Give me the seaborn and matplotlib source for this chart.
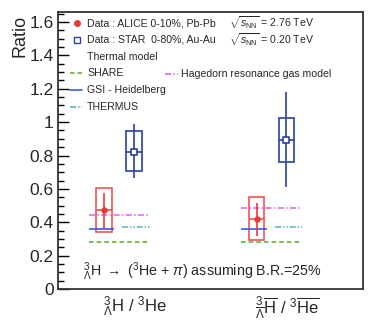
import matplotlib
matplotlib.use("Agg")
import matplotlib.pyplot as plt
import numpy as np
import pandas as pd
import seaborn as sns
from matplotlib.lines import Line2D
from matplotlib.patches import Rectangle
from matplotlib.ticker import MultipleLocator
from matplotlib.transforms import ScaledTranslation

# categories
categories = [r"$^{3}_{\Lambda}$H / $^{3}$He",
              r"$^{3}_{\overline{\Lambda}}\overline{\mathrm{H}}$ / $^{3}\overline{\mathrm{He}}$"]

# data points: value, stat low/high, syst low/high
alice_val = [0.473, 0.419]
alice_stat_lo = [0.36, 0.319]
alice_stat_hi = [0.577, 0.517]
alice_sys_lo = [0.34, 0.293]
alice_sys_hi = [0.605, 0.553]

star_val = [0.822, 0.892]
star_stat_lo = [0.663, 0.609]
star_stat_hi = [0.986, 1.18]
star_sys_lo = [0.707, 0.76]
star_sys_hi = [0.948, 1.022]

# thermal model predictions
share_val = [0.28, 0.28]
hagedorn_val = [0.445, 0.487]
gsi_val = [0.361, 0.361]
thermus_val = [0.369, 0.369]

c_alice = "#e83a3a"
c_alice_box = "#f05454"
c_star = "#2c40a8"
c_share = "#5aaa22"
c_hag = "#e85ee8"
c_gsi = "#3a5ae8"
c_thermus = "#5eb0b0"

ls_share = (0, (3, 2))
ls_hag = (0, (4, 1.5, 1, 1.5))
ls_thermus = (0, (4, 1.2, 1, 1.2, 1, 1.2))

sns.set_theme(style="white")
plt.rcParams["font.family"] = ["Liberation Sans", "DejaVu Sans"]
plt.rcParams["mathtext.fontset"] = "custom"
plt.rcParams["mathtext.rm"] = "Liberation Sans"
plt.rcParams["mathtext.it"] = "Liberation Sans:italic"
plt.rcParams["mathtext.bf"] = "Liberation Sans:bold"

fig = plt.figure(figsize=(3.74, 3.24), dpi=100)
ax = fig.add_axes([58 / 374, 35 / 324, 305 / 374, 277 / 324])

xs = np.arange(len(categories))
off = 0.098
bw = 0.052

# model lines
ax.hlines(share_val, xs - 0.2, xs + 0.2, color=c_share, lw=1.1, ls=ls_share)
ax.hlines(hagedorn_val, xs - 0.2, xs + 0.19, color=c_hag, lw=1.1, ls=ls_hag)
ax.hlines(gsi_val, xs - 0.2, xs - 0.03, color=c_gsi, lw=1.2)
ax.hlines(thermus_val, xs + 0.02, xs + 0.2, color=c_thermus, lw=1.1, ls=ls_thermus)

# systematic boxes + stat bars
for x, v, slo, shi, lo, hi, col, bcol in [
    (xs - off, alice_val, alice_sys_lo, alice_sys_hi, alice_stat_lo, alice_stat_hi, c_alice, c_alice_box),
    (xs + off, star_val, star_sys_lo, star_sys_hi, star_stat_lo, star_stat_hi, c_star, c_star),
]:
    for xi, vi, a, b, l, h in zip(x, v, slo, shi, lo, hi):
        ax.add_patch(Rectangle((xi - bw, a), 2 * bw, b - a, fill=False, ec=bcol, lw=1.2))
        ax.hlines(vi, xi - bw, xi + bw, color=bcol, lw=1.2)
        ax.vlines(xi, l, h, color=col, lw=1.2)

df = pd.DataFrame({
    "x": np.concatenate([xs - off, xs + off]),
    "y": alice_val + star_val,
    "src": ["ALICE"] * 2 + ["STAR"] * 2,
})
sns.scatterplot(data=df[df.src == "ALICE"], x="x", y="y", ax=ax, color=c_alice,
                marker="o", s=22, edgecolor=c_alice, linewidth=0, zorder=5, legend=False)
sns.scatterplot(data=df[df.src == "STAR"], x="x", y="y", ax=ax, marker="s", s=22,
                facecolor="white", edgecolor=c_star, linewidth=1.2, zorder=5, legend=False)

ax.set_xlim(-0.4, 1.6)
ax.set_ylim(0, 1.66)
ax.set_xticks(xs)
ax.set_xticklabels(categories, fontsize=12)
ax.tick_params(axis="x", length=0, pad=4)
for lab in ax.get_xticklabels():
    lab.set_transform(lab.get_transform() + ScaledTranslation(16 / 100, 0, fig.dpi_scale_trans))
ax.set_xlabel("")
ax.set_ylabel("")
ax.yaxis.set_minor_locator(MultipleLocator(0.05))
ax.set_yticks(np.arange(0, 1.61, 0.2))
ax.set_yticklabels(["0", "0.2", "0.4", "0.6", "0.8", "1", "1.2", "1.4", "1.6"], fontsize=12.5)
ax.tick_params(axis="y", which="major", direction="in", length=8, width=1, color="black",
               left=True, pad=3)
ax.tick_params(axis="y", which="minor", direction="in", length=4, width=1, color="black",
               left=True)
fig.text(20 / 374, 1 - 15 / 324, "Ratio", rotation=90, fontsize=13, ha="center", va="top")
for s in ax.spines.values():
    s.set_color("#333333")
    s.set_linewidth(1.3)


# legend, placed in pixel positions of the axes box
def axp(px, py):
    return ((px - 58) / 305, (289 - py) / 277)


rows = [
    ("marker", dict(marker="o", ms=4, color=c_alice, mec=c_alice),
     "Data : ALICE 0-10%, Pb-Pb", r"$\sqrt{s_{\mathrm{NN}}}$ = 2.76 TeV", 23),
    ("marker", dict(marker="s", ms=4, mfc="white", mec=c_star, mew=1),
     "Data : STAR  0-80%, Au-Au", r"$\sqrt{s_{\mathrm{NN}}}$ = 0.20 TeV", 40),
    (None, None, "Thermal model", None, 57),
    ("line", dict(color=c_share, lw=1.1, ls=ls_share), "SHARE", None, 73),
    ("line", dict(color=c_gsi, lw=1.2), "GSI - Heidelberg", None, 90),
    ("line", dict(color=c_thermus, lw=1.1, ls=ls_thermus), "THERMUS", None, 107),
]
fs_leg = 7.6
for kind, kw, text, extra, py in rows:
    if kind == "marker":
        x0, y0 = axp(77, py)
        ax.add_line(Line2D([x0], [y0], ls="none", transform=ax.transAxes, **kw))
    elif kind == "line":
        x0, y0 = axp(70, py)
        x1, _ = axp(82, py)
        ax.add_line(Line2D([x0, x1], [y0, y0], transform=ax.transAxes, **kw))
    tx, ty = axp(87, py)
    ax.text(tx, ty, text, transform=ax.transAxes, fontsize=fs_leg, ha="left", va="center")
    if extra:
        tx, ty = axp(229, py)
        ax.text(tx, ty, extra, transform=ax.transAxes, fontsize=fs_leg, ha="left",
                va="center")

x0, y0 = axp(165, 74)
x1, _ = axp(178, 74)
ax.add_line(Line2D([x0, x1], [y0, y0], transform=ax.transAxes, color=c_hag, lw=1.1, ls=ls_hag))
tx, ty = axp(181, 74)
ax.text(tx, ty, "Hagedorn resonance gas model", transform=ax.transAxes, fontsize=fs_leg,
        ha="left", va="center")

tx, ty = axp(83, 272)
ax.text(tx, ty, r"$^{3}_{\Lambda}$H $\rightarrow$ ($^{3}$He + $\pi$) assuming B.R.=25%",
        transform=ax.transAxes, fontsize=10.3, ha="left", va="center")

fig.savefig("out.png", dpi=100)
